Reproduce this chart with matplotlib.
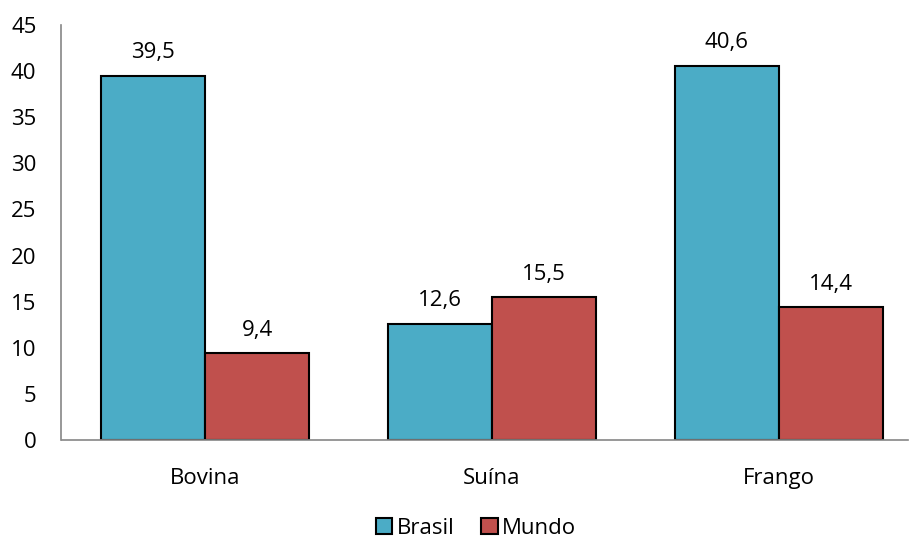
import numpy as np
from matplotlib import pyplot as plt

categories = ["Bovina", "Suína", "Frango"]
brasil = [39.5, 12.6, 40.6]
mundo = [9.4, 15.5, 14.4]
series_names = ["Brasil", "Mundo"]

BLUE = "#4BACC6"
RED = "#C0504D"
BAR_W = 0.363
FS = 16

plt.rcParams['font.family'] = ['Open Sans', 'DejaVu Sans']

fig = plt.figure(figsize=(9.1, 5.4), dpi=100)
ax = fig.add_axes([61.5 / 910, 100 / 540, (908 - 61.5) / 910, 415 / 540])

x = np.arange(len(categories))
b1 = ax.bar(x - BAR_W / 2, brasil, BAR_W, color=BLUE, edgecolor="black", linewidth=1.5, label=series_names[0])
b2 = ax.bar(x + BAR_W / 2, mundo, BAR_W, color=RED, edgecolor="black", linewidth=1.5, label=series_names[1])

# data labels above the bars
for bars, vals in ((b1, brasil), (b2, mundo)):
    for rect, v in zip(bars, vals):
        ax.annotate(f"{v:.1f}".replace(".", ","),
                    (rect.get_x() + rect.get_width() / 2, rect.get_height()),
                    xytext=(0, 9), textcoords="offset points",
                    ha="center", va="bottom", fontsize=FS)

ax.set_xlim(-0.5, 2.45)
ax.set_ylim(0, 45)
ax.set_yticks(range(0, 46, 5))
ax.set_xticks(x)
ax.set_xticklabels(categories)
ax.tick_params(axis="y", length=0, pad=18, labelsize=FS)
ax.tick_params(axis="x", length=0, pad=20, labelsize=FS)

for side in ("top", "right"):
    ax.spines[side].set_visible(False)
for side in ("left", "bottom"):
    ax.spines[side].set_color("#868686")
    ax.spines[side].set_linewidth(1.2)

fig.legend(loc="center", bbox_to_anchor=(476 / 910, 1 - 528 / 540), ncol=2, frameon=False,
           fontsize=FS, handlelength=0.75, handleheight=0.75, handletextpad=0.2, columnspacing=1.2,
           borderpad=0.2)

fig.savefig("out.png", dpi=100)
